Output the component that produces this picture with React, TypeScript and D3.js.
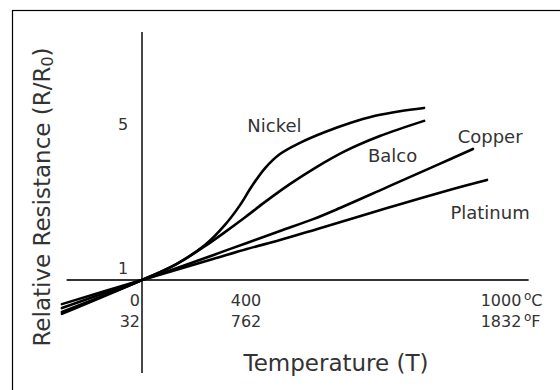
import React from 'react';
import * as d3 from 'd3';

// [temperature °C, R/R0]
const nickel: [number, number][] = [
  [-308, 0.06], [0, 1], [127, 1.42], [242, 1.97], [319, 2.53], [377, 3.08], [414, 3.61],
  [445, 4.11], [480, 4.5], [527, 4.81], [586, 5.11], [645, 5.36], [704, 5.56], [762, 5.69], [819, 5.78],
];
const balco: [number, number][] = [
  [-308, 0.11], [0, 1], [127, 1.42], [242, 1.94], [319, 2.33], [398, 2.75], [445, 3.17],
  [504, 3.67], [562, 4.11], [633, 4.58], [715, 5.0], [819, 5.42],
];
const copper: [number, number][] = [
  [-308, 0.22], [0, 1], [146, 1.36], [273, 1.69], [402, 2.03], [480, 2.36], [558, 2.69],
  [621, 3.0], [732, 3.58], [849, 4.19], [934, 4.64],
];
const platinum: [number, number][] = [
  [-308, 0.33], [0, 1], [146, 1.31], [273, 1.58], [402, 1.86], [480, 2.11], [574, 2.44],
  [732, 3.0], [887, 3.53], [967, 3.78],
];

const seriesNames = ['Nickel', 'Balco', 'Copper', 'Platinum'];
const tempTicksC = [0, 400, 1000];
const tempTicksF = ['32', '762', '1832'];
const resTicks = [1, 5];

const font = 'DejaVu Sans, Verdana, sans-serif';
const ink = '#333';

const App = () => {
  const width = 560;
  const height = 390;

  // schematic axis: the printed ticks are not evenly spaced
  const x = d3.scaleLinear().domain([0, 400, 1000]).range([142, 246, 501]);
  const y = d3.scaleLinear().domain([1, 5]).range([280, 136]);

  const line = d3
    .line<[number, number]>()
    .x((d) => x(d[0]))
    .y((d) => y(d[1]))
    .curve(d3.curveCatmullRom.alpha(0.5));

  const series = [nickel, balco, copper, platinum];
  // label anchor: [temperature, R/R0] where the name starts
  const labelAt: [number, number][] = [
    [403, 5.1],
    [687, 4.27],
    [898, 4.8],
    [881, 2.7],
  ];

  return (
    <svg
      width={width}
      height={height}
      style={{ position: 'absolute', left: 0, top: 0, background: '#fff' }}
      fontFamily={font}
    >
      <rect x={12.5} y={10.5} width={600} height={400} fill="none" stroke="#000" strokeWidth={1.2} />

      {/* axes */}
      <line x1={x(-290)} x2={x(1065)} y1={y(1)} y2={y(1)} stroke={ink} strokeWidth={1.8} />
      <line x1={x(0)} x2={x(0)} y1={32} y2={373} stroke={ink} strokeWidth={1.8} />

      {series.map((s, i) => (
        <path key={seriesNames[i]} d={line(s) || ''} fill="none" stroke="#000" strokeWidth={2.6} strokeLinecap="round" />
      ))}

      {seriesNames.map((n, i) => (
        <text key={n} x={x(labelAt[i][0])} y={y(labelAt[i][1])} fontSize={18} fill={ink}>
          {n}
        </text>
      ))}

      {/* y ticks */}
      {resTicks.map((t) => (
        <text key={t} x={123} y={y(t) - 6} fontSize={16} fill={ink} textAnchor="middle">
          {t}
        </text>
      ))}

      {/* x ticks, Celsius and Fahrenheit */}
      {tempTicksC.map((t, i) => {
        const anchor = t === 0 ? 'end' : 'middle';
        const tx = t === 0 ? x(t) - 2 : x(t);
        return (
          <g key={t}>
            <text x={tx} y={306} fontSize={16} fill={ink} textAnchor={anchor}>
              {t}
            </text>
            <text x={tx} y={327} fontSize={16} fill={ink} textAnchor={anchor}>
              {tempTicksF[i]}
            </text>
          </g>
        );
      })}
      <text x={x(1000) + 23} y={306} fontSize={16} fill={ink}>
        <tspan fontSize={12} dy={-6}>o</tspan>
        <tspan dy={6}>C</tspan>
      </text>
      <text x={x(1000) + 23} y={327} fontSize={16} fill={ink}>
        <tspan fontSize={12} dy={-6}>o</tspan>
        <tspan dy={6}>F</tspan>
      </text>

      {/* titles */}
      <text x={336} y={371} fontSize={23} fill={ink} textAnchor="middle">
        Temperature (T)
      </text>
      <text transform="translate(50,197) rotate(-90)" fontSize={23} fill={ink} textAnchor="middle">
        Relative Resistance (R/R
        <tspan fontSize={16} dy={3}>0</tspan>
        <tspan dy={-3}>)</tspan>
      </text>
    </svg>
  );
};

export default App;
